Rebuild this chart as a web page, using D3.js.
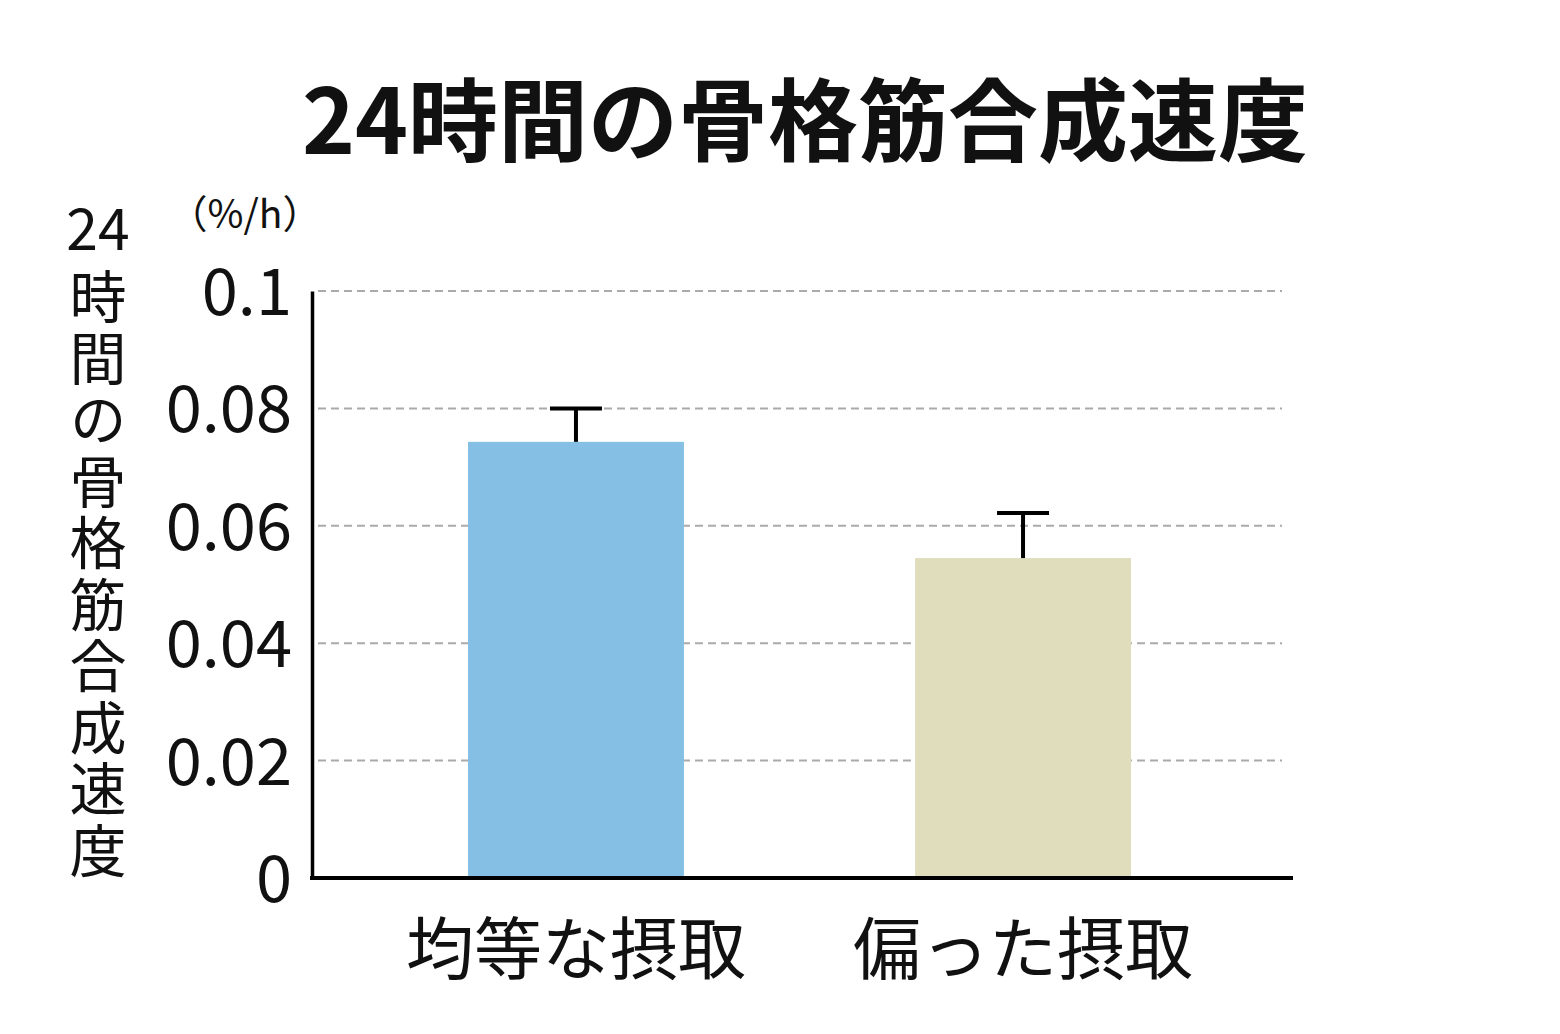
<!DOCTYPE html>
<html><head><meta charset="utf-8">
<script src="https://cdn.jsdelivr.net/npm/d3@7"></script>
<style>html,body{margin:0;padding:0;background:#fff;}</style>
</head><body>
<svg id="c" width="1560" height="1034"></svg>
<script>
const categories = ["均等な摂取", "偏った摂取"];
const values = [0.0743, 0.0545];
const errors = [0.0057, 0.0077];
const colors = ["#85bfe3", "#e0ddbc"];
const yTicks = [0, 0.02, 0.04, 0.06, 0.08, 0.1];
const yTickLabels = ["0", "0.02", "0.04", "0.06", "0.08", "0.1"];
const title = "24時間の骨格筋合成速度";
const yTitleTop = "24";
const yTitleRest = "時間の骨格筋合成速度";
const unitLabel = "（%/h）";

const font = "'Noto Sans CJK JP','Noto Sans',sans-serif";
const svg = d3.select("#c");
const y = d3.scaleLinear().domain([0, 0.1]).range([878, 291]);
const x = d3.scaleBand().domain(categories).range([468, 1131]).paddingInner(0.517).paddingOuter(0);

// title
svg.append("text").attr("x", 805).attr("y", 154).attr("text-anchor", "middle")
  .attr("font-family", font).attr("font-weight", 700).attr("font-size", 90).attr("fill", "#111")
  .text(title);

// gridlines
svg.append("g").selectAll("line").data(yTicks.filter(d => d > 0)).join("line")
  .attr("x1", 318).attr("x2", 1282).attr("y1", d => y(d)).attr("y2", d => y(d))
  .attr("stroke", "#aaa").attr("stroke-width", 2).attr("stroke-dasharray", "8,5");

// bars
svg.append("g").selectAll("rect").data(categories).join("rect")
  .attr("x", d => x(d)).attr("width", x.bandwidth())
  .attr("y", (d, i) => y(values[i])).attr("height", (d, i) => y(0) - y(values[i]))
  .attr("fill", (d, i) => colors[i]);

// error bars
const eb = svg.append("g").attr("stroke", "#000").attr("stroke-width", 4);
categories.forEach((c, i) => {
  const cx = x(c) + x.bandwidth() / 2;
  eb.append("line").attr("x1", cx).attr("x2", cx).attr("y1", y(values[i])).attr("y2", y(values[i] + errors[i]));
  eb.append("line").attr("x1", cx - 26).attr("x2", cx + 26).attr("y1", y(values[i] + errors[i])).attr("y2", y(values[i] + errors[i]));
});

// y axis
const yAxis = d3.axisLeft(y).tickValues(yTicks).tickFormat((d, i) => yTickLabels[i]).tickSize(0).tickPadding(20);
const ga = svg.append("g").attr("transform", "translate(312,0)").call(yAxis);
ga.select(".domain").attr("stroke", "#000").attr("stroke-width", 3.5);
ga.selectAll("text").attr("font-family", font).attr("font-size", 65).attr("fill", "#111").attr("dy", "0.36em");

// x axis
const xAxis = d3.axisBottom(x).tickSize(0).tickPadding(38);
const gx = svg.append("g").attr("transform", "translate(0,878)").call(xAxis);
gx.select(".domain").remove();
svg.append("line").attr("x1", 310).attr("x2", 1293).attr("y1", 878).attr("y2", 878).attr("stroke", "#000").attr("stroke-width", 4);
gx.selectAll("text").attr("font-family", font).attr("font-size", 68).attr("fill", "#111").attr("dy", "0.85em");

// unit label
svg.append("text").attr("x", 245).attr("y", 228).attr("text-anchor", "middle")
  .attr("font-family", font).attr("font-size", 39).attr("fill", "#111").text(unitLabel);

// vertical y title
svg.append("text").attr("x", 98).attr("y", 250).attr("text-anchor", "middle")
  .attr("font-family", font).attr("font-size", 57).attr("fill", "#111").text(yTitleTop);
svg.append("text").attr("x", 98).attr("y", 268)
  .style("writing-mode", "vertical-rl")
  .style("letter-spacing", "4.5px")
  .attr("font-family", font).attr("font-size", 57).attr("fill", "#111").text(yTitleRest);
</script>
</body></html>
